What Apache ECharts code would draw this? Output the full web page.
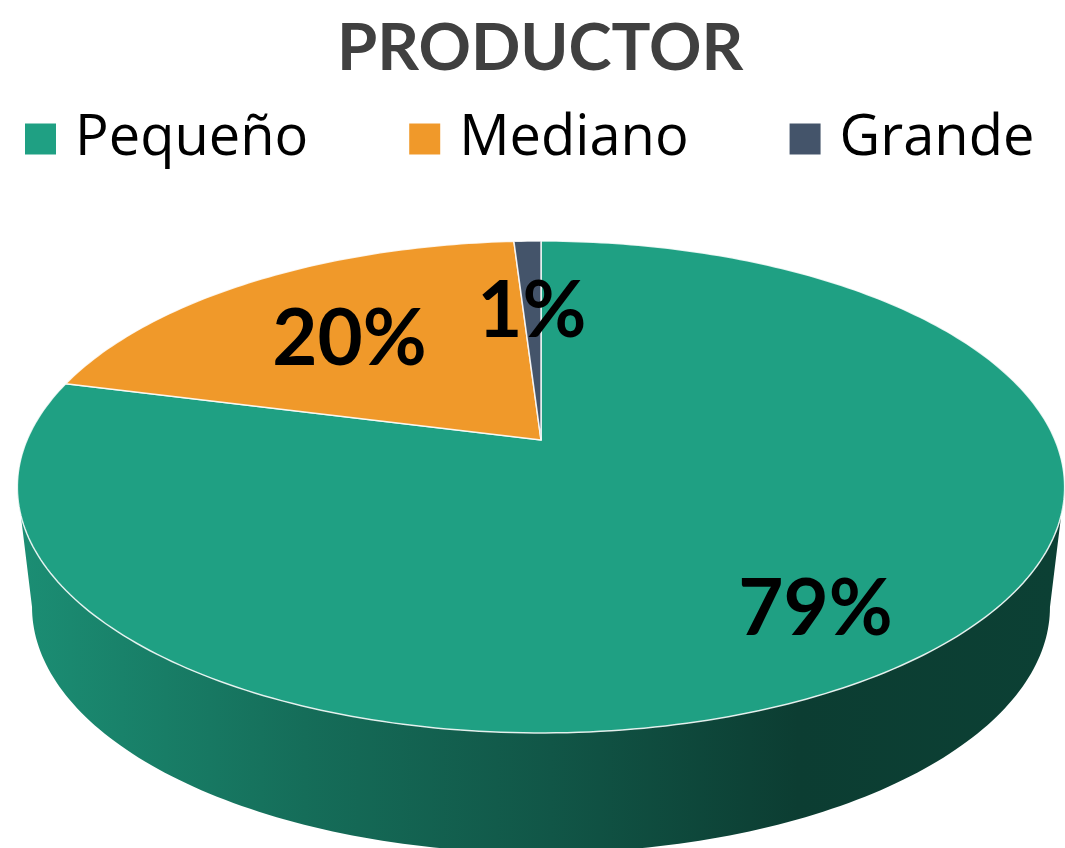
<!DOCTYPE html>
<html>
<head>
<meta charset="utf-8">
<title>PRODUCTOR</title>
<script src="https://cdn.jsdelivr.net/npm/echarts@6/dist/echarts.min.js"></script>
<style>
  html, body { margin: 0; padding: 0; background: #fff; }
  #chart { width: 1065px; height: 848px; }
</style>
</head>
<body>
<div id="chart"></div>
<script>
var categories = ['Pequeño', 'Mediano', 'Grande'];
var values = [79, 20, 1];
var colors = ['#1fa083', '#f0992a', '#44546a'];

var total = values.reduce(function (s, v) { return s + v; }, 0);

// disco visto en perspectiva (centro, radios, inclinación, grosor)
var geo = { cx: 541, cy: 440, a: 514, b: 237, k: 0.191, depth: 120, shrink: 0.972 };
// parte frontal visible del lateral (grados, 0 = arriba, horario)
var frontFrom = Math.acos(-geo.k) * 180 / Math.PI;
var frontTo = 360 - frontFrom;

function project(r, theta) {
  var rad = theta * Math.PI / 180;
  var u = r * Math.sin(rad), v = -r * Math.cos(rad);
  var w = 1 - geo.k * v;
  return [geo.cx + geo.a * u / w, geo.cy + geo.b * v / w];
}
function toBottom(p) {
  return [geo.cx + (p[0] - geo.cx) * geo.shrink, p[1] + geo.depth];
}
function arc(r, t0, t1) {
  var pts = [];
  var n = Math.max(2, Math.ceil(Math.abs(t1 - t0)));
  for (var i = 0; i <= n; i++) pts.push(project(r, t0 + (t1 - t0) * i / n));
  return pts;
}
// oscurece un color multiplicando sus canales
function shade(color, f) {
  var c = echarts.color.parse(color);
  return 'rgb(' + Math.round(c[0] * f) + ',' + Math.round(c[1] * f) + ',' + Math.round(c[2] * f) + ')';
}

function renderSlice(params, api) {
  var i = params.seriesIndex;
  var start = 0;
  for (var j = 0; j < i; j++) start += values[j];
  var val = api.value(0);
  var t0 = start / total * 360;
  var t1 = (start + val) / total * 360;
  var color = api.visual('color');
  var children = [];

  var f0 = Math.max(t0, frontFrom), f1 = Math.min(t1, frontTo);
  if (f1 > f0) {
    var rim = arc(1, f0, f1);
    var low = rim.map(toBottom).reverse();
    children.push({
      type: 'polygon',
      shape: { points: rim.concat(low) },
      style: {
        fill: {
          type: 'linear', global: true,
          x: geo.cx - geo.a, y: 0, x2: geo.cx + geo.a, y2: 0,
          colorStops: [
            { offset: 0, color: shade(color, 0.88) },
            { offset: 0.27, color: shade(color, 0.68) },
            { offset: 0.51, color: shade(color, 0.54) },
            { offset: 0.75, color: shade(color, 0.38) },
            { offset: 1, color: shade(color, 0.4) }
          ]
        }
      }
    });
  }

  children.push({
    type: 'polygon',
    shape: { points: [project(0, 0)].concat(arc(1, t0, t1)) },
    style: { fill: color, stroke: 'rgba(255,255,255,0.85)', lineWidth: 1.5 }
  });

  var share = val / total;
  var pos = project(share > 0.5 ? 0.77 : 0.64, (t0 + t1) / 2);
  children.push({
    type: 'text',
    x: pos[0], y: pos[1] + 7, z2: 10,
    style: {
      text: Math.round(share * 100) + '%',
      fill: '#000',
      fontSize: 78, fontWeight: 'bold', fontFamily: 'Lato',
      align: 'center', verticalAlign: 'middle'
    }
  });
  return { type: 'group', children: children };
}

var chart = echarts.init(document.getElementById('chart'));
var option = {
  animation: false,
  color: colors,
  title: {
    text: 'PRODUCTOR',
    left: 332,
    top: 12,
    textStyle: { fontSize: 65, fontWeight: 'bold', fontFamily: 'Lato', color: '#404040' }
  },
  legend: {
    data: categories,
    top: 106,
    left: 20,
    icon: 'rect',
    itemWidth: 31,
    itemHeight: 31,
    itemGap: 101,
    textStyle: { fontSize: 56, fontFamily: 'Open Sans', color: '#000', padding: [0, 0, 0, 14] }
  },
  series: categories.map(function (name, i) {
    return {
      name: name,
      type: 'custom',
      coordinateSystem: 'none',
      renderItem: renderSlice,
      data: [values[i]]
    };
  })
};
chart.setOption(option);
</script>
</body>
</html>
